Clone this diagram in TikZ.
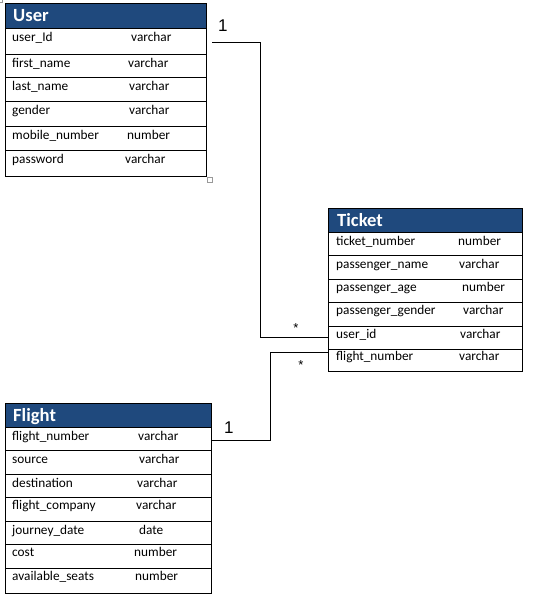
\documentclass[tikz,border=0pt]{standalone}
\usepackage{fontspec}
\setmainfont{Carlito}
\newfontfamily\arialf{Liberation Sans}
\definecolor{hdrblue}{RGB}{31,73,125}
\begin{document}
\begin{tikzpicture}[x=1pt,y=-1pt,
  frame/.style={draw=black,line width=1pt},
  hdrfill/.style={fill=hdrblue,draw=black,line width=1pt},
  sep/.style={draw=black,line width=1pt},
  hdrtext/.style={anchor=base west,inner sep=0,text=white,font=\fontsize{18.6}{20}\selectfont\bfseries},
  fld/.style={anchor=base west,inner sep=0,font=\fontsize{13.3}{15}\selectfont},
  conn/.style={draw=black,line width=1pt},
  card/.style={anchor=base west,inner sep=0,font=\arialf\fontsize{17}{18}\selectfont},
  star/.style={anchor=base,inner sep=0,font=\arialf\fontsize{13}{14}\selectfont},
  handle/.style={draw=gray!80,line width=0.8pt,fill=white}]
\useasboundingbox (0,0) rectangle (538,598);

% ---------- User ----------
\path[hdrfill] (5,3) rectangle (206,28);
\node[hdrtext] (userH) at (13,21) {User};
\path[frame] (5,28) rectangle (206,176);
\foreach \y in {54,77,101,126,150} \path[sep] (5,\y) -- (206,\y);
\node[fld] (u1) at (12,41) {user\_Id};        \node[fld] (u1t) at (131,41) {varchar};
\node[fld] (u2) at (12,67) {first\_name};     \node[fld] (u2t) at (128,67) {varchar};
\node[fld] (u3) at (12,90) {last\_name};      \node[fld] (u3t) at (129,90) {varchar};
\node[fld] (u4) at (12,114) {gender};         \node[fld] (u4t) at (129,114) {varchar};
\node[fld] (u5) at (12,139) {mobile\_number}; \node[fld] (u5t) at (127,139) {number};
\node[fld] (u6) at (12,163) {password};       \node[fld] (u6t) at (125,163) {varchar};
\path[handle] (207,177) rectangle (212,182);
\path[handle] (-3,-3) rectangle (2,2);

% ---------- Ticket ----------
\path[hdrfill] (328,208) rectangle (522,232);
\node[hdrtext] (ticketH) at (337,226) {Ticket};
\path[frame] (328,232) rectangle (522,371);
\foreach \y in {255,279,302,326,349} \path[sep] (328,\y) -- (522,\y);
\node[fld] (t1) at (336,245) {ticket\_number};    \node[fld] (t1t) at (458,245) {number};
\node[fld] (t2) at (336,268) {passenger\_name};   \node[fld] (t2t) at (459,268) {varchar};
\node[fld] (t3) at (336,291) {passenger\_age};    \node[fld] (t3t) at (462,291) {number};
\node[fld] (t4) at (336,314) {passenger\_gender}; \node[fld] (t4t) at (463,314) {varchar};
\node[fld] (t5) at (336,338) {user\_id};          \node[fld] (t5t) at (460,338) {varchar};
\node[fld] (t6) at (336,360) {flight\_number};    \node[fld] (t6t) at (459,360) {varchar};

% ---------- Flight ----------
\path[hdrfill] (5,403) rectangle (211,427);
\node[hdrtext] (flightH) at (13,421) {Flight};
\path[frame] (5,427) rectangle (211,593);
\foreach \y in {450,474,497,521,544,568} \path[sep] (5,\y) -- (211,\y);
\node[fld] (f1) at (12,440) {flight\_number};   \node[fld] (f1t) at (138,440) {varchar};
\node[fld] (f2) at (12,463) {source};           \node[fld] (f2t) at (139,463) {varchar};
\node[fld] (f3) at (12,487) {destination};      \node[fld] (f3t) at (137,487) {varchar};
\node[fld] (f4) at (12,509) {flight\_company};  \node[fld] (f4t) at (136,509) {varchar};
\node[fld] (f5) at (12,534) {journey\_date};    \node[fld] (f5t) at (139,534) {date};
\node[fld] (f6) at (12,556) {cost};             \node[fld] (f6t) at (134,556) {number};
\node[fld] (f7) at (12,580) {available\_seats}; \node[fld] (f7t) at (135,580) {number};

% ---------- Connectors ----------
\coordinate (userEnd) at (212,42);
\coordinate (ticketUser) at (328,337);
\coordinate (ticketFlight) at (328,352);
\coordinate (flightEnd) at (212,440);
\path[conn] (userEnd) -| (260,337) -- (ticketUser);
\path[conn] (ticketFlight) -| (270,440) -- (flightEnd);
\node[card] (c1) at (218,31) {1};
\node[star] (s1) at (296,332) {*};
\node[star] (s2) at (301,369.5) {*};
\node[card] (c2) at (224,433) {1};
\end{tikzpicture}
\end{document}
